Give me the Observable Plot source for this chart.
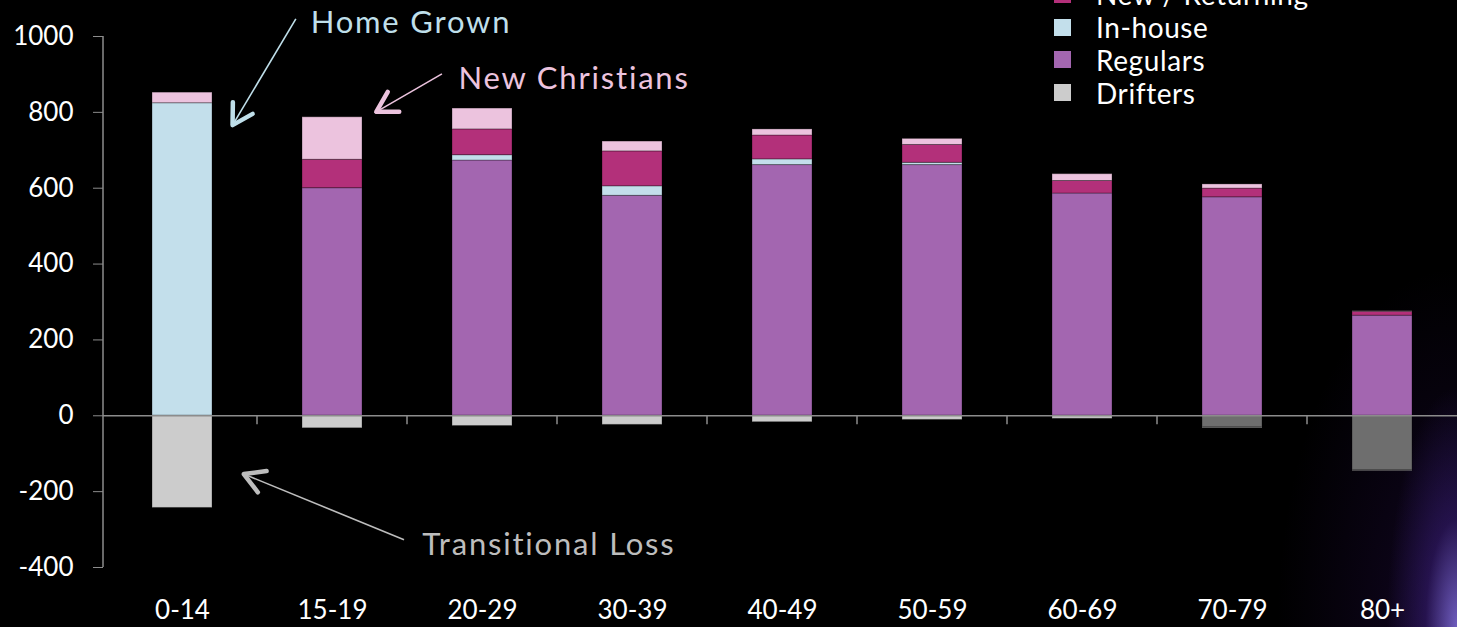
<!DOCTYPE html>
<html>
<head>
<meta charset="utf-8">
<script src="https://cdn.jsdelivr.net/npm/d3@7"></script>
<script src="https://cdn.jsdelivr.net/npm/@observablehq/plot@0.6"></script>
<style>
  html, body { margin: 0; padding: 0; background: #000; }
  #wrap {
    position: relative; width: 1457px; height: 627px; overflow: hidden;
    background:
      radial-gradient(ellipse 70px 240px at 100% 100%, rgba(150,130,255,0.7), rgba(90,50,190,0.3) 45%, rgba(40,10,80,0) 100%),
      radial-gradient(ellipse 180px 360px at 100% 100%, rgba(60,20,120,0.3), rgba(0,0,0,0) 100%),
      #000;
  }
  #legend {
    position: absolute; left: 1054px; top: -22px;
    font-family: Lato, "Open Sans", sans-serif; font-size: 28px; color: #fff; letter-spacing: 0.6px;
  }
  #legend .row { display: flex; align-items: center; height: 32.8px; white-space: nowrap; }
  #legend .sw { width: 17px; height: 17px; margin-right: 25px; flex: none; }
  svg text { font-family: Lato, "Open Sans", sans-serif; }
</style>
</head>
<body>
<div id="wrap"><div id="legend"></div></div>
<script>
// ---- data ----
const categories = ["0-14", "15-19", "20-29", "30-39", "40-49", "50-59", "60-69", "70-79", "80+"];
const regulars      = [0,   600, 673, 580, 661, 661, 586, 576, 264];
const inHouse       = [824, 0,   14,  25,  15,  6,   0,   0,   0];
const newReturning  = [0,   75,  68,  92,  63,  47,  33,  23,  10];
const newChristians = [28,  112, 55,  26,  16,  16,  18,  11,  1.5];
const deceased      = [0,   0,   0,   0,   0,   0,   0,   -30, -144];
const drifters      = [-243, -33, -27, -24, -17, -11, -8, -2.5, -1.5];
const yTicks = [-400, -200, 0, 200, 400, 600, 800, 1000];
const seriesNames = ["Regulars", "In-house", "New / Returning", "New Christians", "Deceased", "Drifters"];
const seriesValues = [regulars, inHouse, newReturning, newChristians, deceased, drifters];
const seriesColors = ["#a366b0", "#c3dfeb", "#b3307a", "#ecc3de", "#6e6e6e", "#cccccc"];
const legendNames = ["New / Returning", "In-house", "Regulars", "Drifters"];
const annotationTexts = ["Home Grown", "New Christians", "Transitional Loss"];

// ---- table ----
const rows = [];
seriesNames.forEach((s, si) => {
  categories.forEach((c, ci) => {
    const v = seriesValues[si][ci];
    if (v !== 0) rows.push({age: c, series: s, value: v});
  });
});

const chart = Plot.plot({
  width: 1457, height: 627,
  marginLeft: 103, marginRight: 0, marginTop: 36, marginBottom: 60,
  style: {background: "transparent", color: "#fff", fontFamily: "Lato, 'Open Sans', sans-serif", fontSize: "26px", overflow: "visible"},
  x: {domain: categories, range: [103, 1461], paddingInner: 0.6, paddingOuter: 0.3, label: null},
  y: {domain: [-400, 1000], label: null},
  color: {domain: seriesNames, range: seriesColors},
  marks: [
    Plot.barY(rows, Plot.stackY({x: "age", y: "value", fill: "series", order: seriesNames,
      stroke: "#000", strokeOpacity: 0.3, strokeWidth: 1})),
    Plot.ruleY([0], {stroke: "#8c8c8c", strokeWidth: 1.5}),
    Plot.axisY(yTicks, {tickSize: 10, tickPadding: 20, stroke: "#8c8c8c", fill: "#fff", fontSize: 26,
      tickFormat: d => String(d), label: null}),
    Plot.axisX({tickSize: 0, tickPadding: 33, fill: "#fff", fontSize: 26, label: null})
  ]
});
document.getElementById("wrap").appendChild(chart);

// ---- extra axis pieces from the plot's own scales ----
const xs = chart.scale("x"), ys = chart.scale("y");
const svg = d3.select(chart);
const y0 = ys.apply(0);
svg.append("line")
  .attr("x1", xs.range[0]).attr("x2", xs.range[0])
  .attr("y1", ys.apply(1000)).attr("y2", ys.apply(-400))
  .attr("stroke", "#8c8c8c").attr("stroke-width", 1.5);
categories.slice(1).forEach(c => {
  const bx = xs.apply(c) - (xs.step - xs.bandwidth) / 2;
  svg.append("line").attr("x1", bx).attr("x2", bx).attr("y1", y0).attr("y2", y0 + 9)
    .attr("stroke", "#8c8c8c").attr("stroke-width", 1.5);
});

// ---- annotations (category + offset in band steps, value) ----
function px(cat, off) { return xs.apply(cat) + xs.bandwidth / 2 + off * xs.step; }
const annotations = [
  {text: annotationTexts[0], color: "#bfdfea", tx: ["15-19", -0.142], ty: 1008,
   from: ["15-19", -0.241, 1045], to: ["0-14", 0.337, 765]},
  {text: annotationTexts[1], color: "#ecc3de", tx: ["20-29", -0.156], ty: 859,
   from: ["15-19", 0.733, 900], to: ["15-19", 0.295, 800]},
  {text: annotationTexts[2], color: "#bdbdbd", tx: ["15-19", 0.601], ty: -368,
   from: ["15-19", 0.48, -328], to: ["0-14", 0.412, -155]}
];
annotations.forEach(a => {
  const x1 = px(a.from[0], a.from[1]), y1 = ys.apply(a.from[2]);
  const x2 = px(a.to[0], a.to[1]), y2 = ys.apply(a.to[2]);
  svg.append("line").attr("x1", x1).attr("y1", y1).attr("x2", x2).attr("y2", y2)
    .attr("stroke", a.color).attr("stroke-width", 1.6);
  const ang = Math.atan2(y1 - y2, x1 - x2), L = 23, spread = Math.PI / 6;
  const p = [ang - spread, ang + spread].map(t => [x2 + L * Math.cos(t), y2 + L * Math.sin(t)]);
  svg.append("path")
    .attr("d", `M${p[0][0]},${p[0][1]}L${x2},${y2}L${p[1][0]},${p[1][1]}`)
    .attr("fill", "none").attr("stroke", a.color).attr("stroke-width", 4.5)
    .attr("stroke-linecap", "round").attr("stroke-linejoin", "round");
  svg.append("text").attr("x", px(a.tx[0], a.tx[1])).attr("y", ys.apply(a.ty))
    .attr("fill", a.color).attr("font-size", 31).attr("letter-spacing", 1.8).attr("text-anchor", "start")
    .text(a.text);
});

// ---- legend ----
const legend = d3.select("#legend");
legendNames.forEach(n => {
  const r = legend.append("div").attr("class", "row");
  r.append("div").attr("class", "sw").style("background", seriesColors[seriesNames.indexOf(n)]);
  r.append("span").text(n);
});
</script>
</body>
</html>
